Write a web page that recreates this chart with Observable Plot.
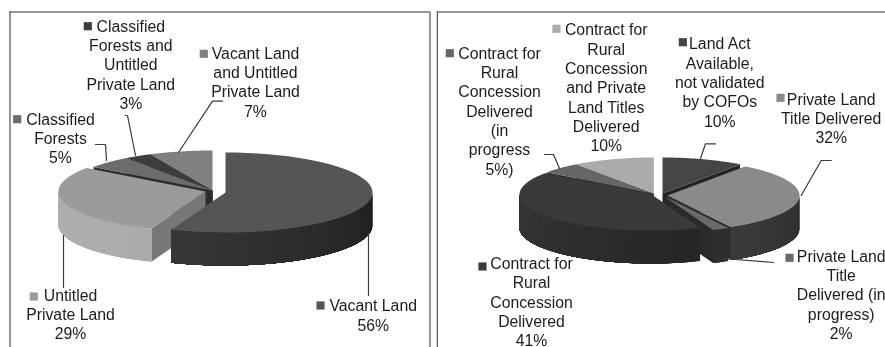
<!DOCTYPE html>
<html>
<head>
<meta charset="utf-8">
<script src="https://cdn.jsdelivr.net/npm/d3@7"></script>
<script src="https://cdn.jsdelivr.net/npm/@observablehq/plot@0.6"></script>
<style>
html,body{margin:0;padding:0;background:#fff;overflow:hidden}
#chart{display:flex;width:885px;height:347px}
svg{display:block;filter:blur(0.45px)}
</style>
</head>
<body>
<div id="chart"></div>
<script>
// ---- data ----
const landCategories = [
  "Vacant Land\n#%",
  "Untitled\nPrivate Land\n#%",
  "Classified\nForests\n#%",
  "Classified\nForests and\nUntitled\nPrivate Land\n#%",
  "Vacant Land\nand Untitled\nPrivate Land\n#%"
];
const landValues = [56, 29, 5, 3, 7];

const titleCategories = [
  "Land Act\nAvailable,\nnot validated\nby COFOs\n#%",
  "Private Land\nTitle Delivered\n#%",
  "Private Land\nTitle\nDelivered (in\nprogress)\n#%",
  "Contract for\nRural\nConcession\nDelivered\n#%",
  "Contract for\nRural\nConcession\nDelivered\n(in\nprogress\n#%)",
  "Contract for\nRural\nConcession\nand Private\nLand Titles\nDelivered\n#%"
];
const titleValues = [10, 32, 2, 41, 5, 10];

// ---- layout & style (not data) ----
const FONT = "'Liberation Sans', Arial, sans-serif";
const leftPanel = {
  categories: landCategories, values: landValues,
  domain: [0, 434], rx: 147, ry: 40, depth: 33,
  frameX: [9.5, 429.5], frameEnd: 429.5,
  centers: [[225,192],[205,191],[212,190],[212,190],[212,190]],
  order: [4,3,2,1,0],
  top:  ["#555555","#9b9b9b","#6c6c6c","#3c3c3c","#808080"],
  wall: [["#474747","#1f1f1f"],["#b0b0b0","#a2a2a2"],["#555","#555"],["#333","#333"],["#555","#555"]],
  cut:  ["#333333","#777777","#2c2c2c","#2c2c2c","#2c2c2c"],
  swatch: [[320,305],[33.3,296],[16.7,118.7],[87.3,25.7],[203.3,53.3]],
  labelX: [372.7,70,60,130.3,255],
  labelY: [305.3,294.7,118.7,25.7,52.7],
  leaders: [
    [[368,232],[368,295]],
    [[63,235],[63,287]],
    [[95,144],[105,144],[106,160]],
    [[125,115],[127,115],[135,155]],
    [[222,100.7],[212,100.7],[178,152]]
  ]
};
const rightPanel = {
  categories: titleCategories, values: titleValues,
  domain: [434, 885], rx: 132, ry: 36, depth: 33,
  frameX: [436.8], frameEnd: 885,
  centers: [[662,193],[667,195],[664,196],[651,194],[653,193],[653.3,193]],
  order: [5,4,0,1,2,3],
  top:  ["#454545","#8a8a8a","#6a6a6a","#3a3a3a","#666666","#ababab"],
  wall: [["#333","#333"],["#555555","#2e2e2e"],["#2e2e2e","#2e2e2e"],["#363636","#1c1c1c"],["#444","#444"],["#777","#777"]],
  cut:  ["#242424","#2e2e2e","#2a2a2a","#2a2a2a","#333333","#555555"],
  swatch: [[682.3,41.7],[780,97.3],[789,257.3],[482,266],[449.3,52.7],[556,28.3]],
  labelX: [719.3,830.7,840.7,531,499,605.7],
  labelY: [43.3,98.7,255.7,263,52.7,29.3],
  leaders: [
    [[715,143.3],[705,143.3],[700,158]],
    [[830.7,160],[820.7,160],[800.7,195]],
    [[773,262],[723,258]],
    [[544,154],[553,154],[559,168]]
  ]
};

function pieFaces(p) {
  const total = d3.sum(p.values);
  const cum = d3.cumsum(p.values);
  const faces = [];
  let id = 0;
  const rim = (c, a, dz = 0) => {
    const t = a * Math.PI / 180;
    return [c[0] + p.rx * Math.sin(t), c[1] - p.ry * Math.cos(t) + dz];
  };
  const add = (pts, color) => {
    id++;
    for (const [x, y] of pts) faces.push({face: id, x, y, color});
  };
  for (const i of p.order) {
    const c = p.centers[i];
    const a = (cum[i] - p.values[i]) / total * 360;
    const b = cum[i] / total * 360;
    const low = [c[0], c[1] + p.depth];
    // cut faces that look towards the viewer
    if (a > 180 && a < 360) add([c, rim(c,a), rim(c,a,p.depth), low], p.cut[i]);
    if (b > 0 && b < 180) add([c, rim(c,b), rim(c,b,p.depth), low], p.cut[i]);
    // outer wall as shaded bands: each band runs on to the wall's end and the next paints over it
    const w0 = Math.max(a, 90), w1 = Math.min(b, 270);
    if (w1 > w0) {
      const n = Math.ceil((w1 - w0) / 2);
      const shade = d3.interpolateRgb(p.wall[i][1], p.wall[i][0]);
      const steps = 24;
      for (let k = 0; k < n; k++) {
        const s = w0 + (w1 - w0) * k / n;
        const upper = d3.range(steps + 1).map(j => rim(c, s + (w1 - s) * j / steps));
        const lower = upper.map((_, j) => rim(c, s + (w1 - s) * (steps - j) / steps, p.depth));
        add([...upper, ...lower], shade((s - 90) / 180));
      }
    }
    // top face
    const arc = d3.range(0, 49).map(k => rim(c, a + (b - a) * k / 48));
    add([c, ...arc, c], p.top[i]);
  }
  return faces;
}

function drawPanel(p) {
  const width = p.domain[1] - p.domain[0];
  const labels = p.categories.map((t, i) => ({
    text: t.replace("#", p.values[i]),
    x: p.labelX[i],
    y: p.labelY[i] - 8
  }));
  const swatches = p.swatch.map(([x, y], i) => ({x, y, color: p.top[i]}));
  const leaders = p.leaders.flatMap((l, i) => l.map(([x, y]) => ({x, y, i})));
  const svg = Plot.plot({
    width, height: 347,
    margin: 0,
    style: {background: "#fff", fontFamily: FONT},
    x: {axis: null, domain: p.domain, range: [0, width]},
    y: {axis: null, domain: [0, 347], range: [0, 347]},
    color: {type: "identity"},
    marks: [
      Plot.ruleX(p.frameX, {y1: 11.5, y2: 347, stroke: "#333", strokeWidth: 1}),
      Plot.ruleY([11.5], {x1: p.frameX[0], x2: p.frameEnd, stroke: "#333", strokeWidth: 1}),
      Plot.line(pieFaces(p), {x: "x", y: "y", z: "face", fill: d => d.color, stroke: "none", curve: "linear"}),
      Plot.line(leaders, {x: "x", y: "y", z: "i", stroke: "#3a3a3a", strokeWidth: 1.2, curve: "linear"}),
      Plot.dot(swatches, {x: "x", y: "y", symbol: "square", r: 4.6, fill: d => d.color, stroke: null}),
      Plot.text(labels, {x: "x", y: "y", text: "text", lineAnchor: "top", textAnchor: "middle",
        lineHeight: 1.22, fontSize: 15.8, fill: "#1c1c1c", fontFamily: FONT})
    ]
  });
  return svg;
}

const root = document.getElementById("chart");
root.append(drawPanel(leftPanel), drawPanel(rightPanel));
</script>
</body>
</html>
